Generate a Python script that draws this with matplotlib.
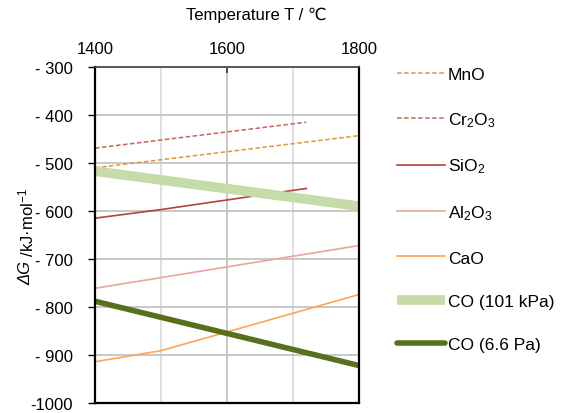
import matplotlib
matplotlib.use("Agg")
import matplotlib.pyplot as plt
from matplotlib.ticker import FixedLocator

plt.rcParams['font.family'] = ['Liberation Sans', 'DejaVu Sans']
plt.rcParams['mathtext.fontset'] = 'custom'
plt.rcParams['mathtext.rm'] = 'Liberation Sans'
plt.rcParams['mathtext.it'] = 'Liberation Sans:italic'

# Data (temperature in °C, ΔG in kJ/mol)
mno_T = [1400, 1800]
mno_G = [-510, -443]
cr2o3_T = [1400, 1720]
cr2o3_G = [-469, -415]
sio2_T = [1400, 1500, 1720]
sio2_G = [-615, -597, -553]
al2o3_T = [1400, 1800]
al2o3_G = [-761, -672]
cao_T = [1400, 1500, 1800]
cao_G = [-914, -891, -774]
co101_T = [1400, 1800]
co101_G = [-517, -590]
co66_T = [1400, 1800]
co66_G = [-788, -922]

labels = ['MnO', 'Cr$_2$O$_3$', 'SiO$_2$', 'Al$_2$O$_3$', 'CaO', 'CO (101 kPa)', 'CO (6.6 Pa)']
x_ticks = [1400, 1600, 1800]
y_ticks = [-300, -400, -500, -600, -700, -800, -900, -1000]
y_ticklabels = ['- 300', '- 400', '- 500', '- 600', '- 700', '- 800', '- 900', '-1000']

W, H = 561, 414
fig = plt.figure(figsize=(W/100, H/100), dpi=100)
ax = fig.add_axes([95/W, 1-404/H, (359-95)/W, (404-68)/H])

h = []
h += ax.plot(mno_T, mno_G, color='#e8923a', lw=1.1, ls=(0, (3, 1.6)))
h += ax.plot(cr2o3_T, cr2o3_G, color='#d0605a', lw=1.1, ls=(0, (3, 1.6)))
h += ax.plot(sio2_T, sio2_G, color='#b5403c', lw=1.2)
h += ax.plot(al2o3_T, al2o3_G, color='#eaa59e', lw=1.2)
h += ax.plot(cao_T, cao_G, color='#ffa552', lw=1.2)
h += ax.plot(co101_T, co101_G, color='#c5dba8', lw=7, solid_capstyle='butt')
h += ax.plot(co66_T, co66_G, color='#586f1e', lw=4, solid_capstyle='round')

fs = 12
ax.set_xlim(1400, 1800)
ax.set_ylim(-1000, -300)
ax.xaxis.tick_top()
ax.xaxis.set_label_position('top')
ax.set_xticks(x_ticks)
ax.xaxis.set_minor_locator(FixedLocator([1500, 1700]))
ax.tick_params(axis='x', which='major', direction='in', length=4, width=1.2, color='#333333', labelsize=fs, pad=8)
ax.tick_params(axis='x', which='minor', length=0)
ax.set_yticks(y_ticks)
ax.set_yticklabels(y_ticklabels)
ax.tick_params(axis='y', direction='out', length=5, width=1, labelsize=fs, pad=11)
ax.set_xlabel('Temperature T / \u2103', fontsize=fs, labelpad=16)
ax.xaxis.label.set_x((256 - 95) / (359 - 95))

ax.grid(True, which='major', axis='both', color='#bfbfbf', lw=1.2)
ax.grid(True, which='minor', axis='x', color='#d9d9d9', lw=1.2)
ax.set_axisbelow(True)
for s in ['left', 'right', 'bottom']:
    ax.spines[s].set_color('black')
    ax.spines[s].set_linewidth(1.6)
ax.spines['top'].set_color('#404040')
ax.spines['top'].set_linewidth(1.2)

fig.legend(h, labels, loc='upper left', bbox_to_anchor=(381/W, 1-52/H), frameon=False,
           fontsize=12.5, handlelength=2.8, handletextpad=0.15, labelspacing=1.62)

# y label: italic ΔG followed by upright unit, drawn as two rotated texts
xlab = 26/W
t1 = fig.text(xlab, 0, '\u0394G', rotation=90, fontsize=fs, fontstyle='italic',
              ha='center', va='bottom')
t2 = fig.text(xlab, 0, ' /kJ\u00b7mol$^{-1}$', rotation=90, fontsize=fs,
              ha='center', va='bottom')
fig.canvas.draw()
r = fig.canvas.get_renderer()
h1 = t1.get_window_extent(r).height
h2 = t2.get_window_extent(r).height
center = H - 236
y0 = center - (h1 + h2) / 2
t1.set_y(y0 / H)
t2.set_y((y0 + h1) / H)

fig.savefig('out.png', dpi=100)
